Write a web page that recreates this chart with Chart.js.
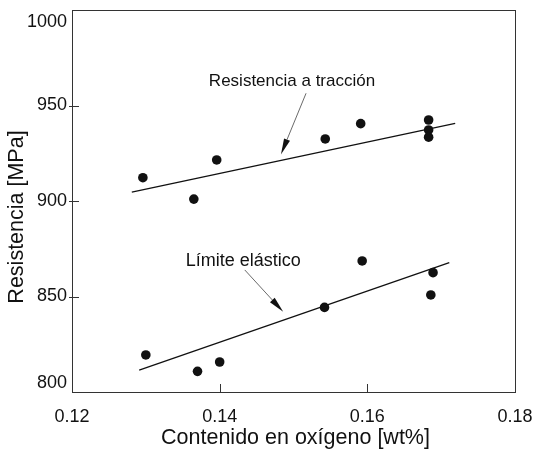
<!DOCTYPE html>
<html>
<head>
<meta charset="utf-8">
<script src="https://cdn.jsdelivr.net/npm/chart.js@4.4.0/dist/chart.umd.min.js"></script>
<style>
  html, body { margin: 0; padding: 0; background: #fff; }
</style>
</head>
<body>
<canvas id="myChart" width="539" height="452"></canvas>
<script>
// Oxygen content (wt%) vs strength (MPa)
const tensileX = [0.1296, 0.1365, 0.1396, 0.1543, 0.1591, 0.1683, 0.1683, 0.1683];
const tensileY = [912.2, 901.0, 921.5, 932.5, 940.5, 942.4, 937.2, 933.4];
const yieldX = [0.1300, 0.1370, 0.1400, 0.1542, 0.1593, 0.1689, 0.1686];
const yieldY = [819.4, 810.8, 815.7, 844.3, 868.6, 862.5, 850.8];

// regression lines (end points)
const tensileFitX = [0.1281, 0.1719];
const tensileFitY = [904.6, 940.7];
const yieldFitX = [0.1291, 0.1711];
const yieldFitY = [811.4, 867.7];

// annotations: label position, arrow start, arrow tip
const labels = ['Resistencia a tracción', 'Límite elástico'];
const labelX = [0.1498, 0.1432];
const labelY = [962.8, 868.6];
const arrowFromX = [0.1517, 0.1434];
const arrowFromY = [956.4, 863.9];
const arrowToX = [0.1483, 0.1486];
const arrowToY = [924.4, 842.0];

const xTicks = [0.12, 0.14, 0.16, 0.18];
const yTicks = [800, 850, 900, 950, 1000];
const xTickMarks = [0.14, 0.16];
const yTickMarks = [850, 900, 950];

const xTitle = 'Contenido en oxígeno [wt%]';
const yTitle = 'Resistencia [MPa]';

const toPoints = (xs, ys) => xs.map((x, i) => ({ x: x, y: ys[i] }));

const FONT = 'Liberation Sans, Arial, sans-serif';
const INK = '#111';
const labelSizes = [17, 18];

// frame, inward ticks, tick labels, axis titles, annotations
const framePlugin = {
    id: 'frame',
    afterDraw(chart) {
        const ctx = chart.ctx;
        const a = chart.chartArea;
        const xs = chart.scales.x;
        const ys = chart.scales.y;
        ctx.save();
        ctx.strokeStyle = '#333';
        ctx.lineWidth = 1;
        ctx.strokeRect(Math.round(a.left) + 0.5, Math.round(a.top) + 0.5,
                       Math.round(a.right - a.left), Math.round(a.bottom - a.top));

        ctx.beginPath();
        xTickMarks.forEach(v => {
            const px = Math.round(xs.getPixelForValue(v)) + 0.5;
            ctx.moveTo(px, a.bottom);
            ctx.lineTo(px, a.bottom - 8);
        });
        yTickMarks.forEach(v => {
            const py = Math.round(ys.getPixelForValue(v)) + 0.5;
            ctx.moveTo(a.left - 3, py);
            ctx.lineTo(a.left + 7, py);
        });
        ctx.stroke();

        ctx.fillStyle = INK;
        ctx.font = '18px ' + FONT;
        ctx.textBaseline = 'middle';
        ctx.textAlign = 'right';
        yTicks.forEach(v => {
            let py = ys.getPixelForValue(v);
            // end labels sit a little inside the frame
            if (v === 1000) py += 12;
            if (v === 800) py -= 9;
            ctx.fillText(String(v), a.left - 5, py);
        });
        ctx.textAlign = 'center';
        xTicks.forEach(v => {
            ctx.fillText(v.toFixed(2), xs.getPixelForValue(v), a.bottom + 25);
        });

        // axis titles
        ctx.font = '21.5px ' + FONT;
        ctx.fillText(xTitle, (a.left + a.right) / 2 + 2, 438);
        ctx.save();
        ctx.translate(17, (a.top + a.bottom) / 2 + 16);
        ctx.rotate(-Math.PI / 2);
        ctx.fillText(yTitle, 0, 0);
        ctx.restore();

        labels.forEach((t, i) => {
            ctx.font = labelSizes[i] + 'px ' + FONT;
            ctx.fillStyle = INK;
            ctx.fillText(t, xs.getPixelForValue(labelX[i]), ys.getPixelForValue(labelY[i]));
            const x0 = xs.getPixelForValue(arrowFromX[i]);
            const y0 = ys.getPixelForValue(arrowFromY[i]);
            const x1 = xs.getPixelForValue(arrowToX[i]);
            const y1 = ys.getPixelForValue(arrowToY[i]);
            const ang = Math.atan2(y1 - y0, x1 - x0);
            const len = 16, half = 3.2;
            const bx = x1 - len * Math.cos(ang);
            const by = y1 - len * Math.sin(ang);
            ctx.strokeStyle = '#444';
            ctx.lineWidth = 0.8;
            ctx.beginPath();
            ctx.moveTo(x0, y0);
            ctx.lineTo(bx, by);
            ctx.stroke();
            ctx.beginPath();
            ctx.moveTo(x1, y1);
            ctx.lineTo(bx + half * Math.sin(ang), by - half * Math.cos(ang));
            ctx.lineTo(bx - half * Math.sin(ang), by + half * Math.cos(ang));
            ctx.closePath();
            ctx.fill();
        });
        ctx.restore();
    }
};

const ctx = document.getElementById('myChart').getContext('2d');
const chart = new Chart(ctx, {
    type: 'scatter',
    data: {
        datasets: [
            {
                label: 'Resistencia a tracción',
                data: toPoints(tensileX, tensileY),
                backgroundColor: INK,
                borderColor: INK,
                pointRadius: 4.8,
                pointBorderWidth: 0,
            },
            {
                label: 'Límite elástico',
                data: toPoints(yieldX, yieldY),
                backgroundColor: INK,
                borderColor: INK,
                pointRadius: 4.8,
                pointBorderWidth: 0,
            },
            {
                type: 'line',
                data: toPoints(tensileFitX, tensileFitY),
                borderColor: INK,
                borderWidth: 1.3,
                pointRadius: 0,
                fill: false,
            },
            {
                type: 'line',
                data: toPoints(yieldFitX, yieldFitY),
                borderColor: INK,
                borderWidth: 1.3,
                pointRadius: 0,
                fill: false,
            }
        ]
    },
    options: {
        responsive: false,
        animation: false,
        layout: { padding: { top: 10, right: 24, left: 0, bottom: 0 } },
        plugins: {
            legend: { display: false },
            tooltip: { enabled: false }
        },
        scales: {
            x: {
                type: 'linear',
                min: 0.12,
                max: 0.18,
                afterFit: s => { s.height = 60; },
                grid: { display: false, drawTicks: false },
                border: { display: false },
                ticks: { display: false }
            },
            y: {
                type: 'linear',
                min: 800,
                max: 1000,
                afterFit: s => { s.width = 72; },
                grid: { display: false, drawTicks: false },
                border: { display: false },
                ticks: { display: false }
            }
        }
    },
    plugins: [framePlugin]
});
</script>
</body>
</html>
